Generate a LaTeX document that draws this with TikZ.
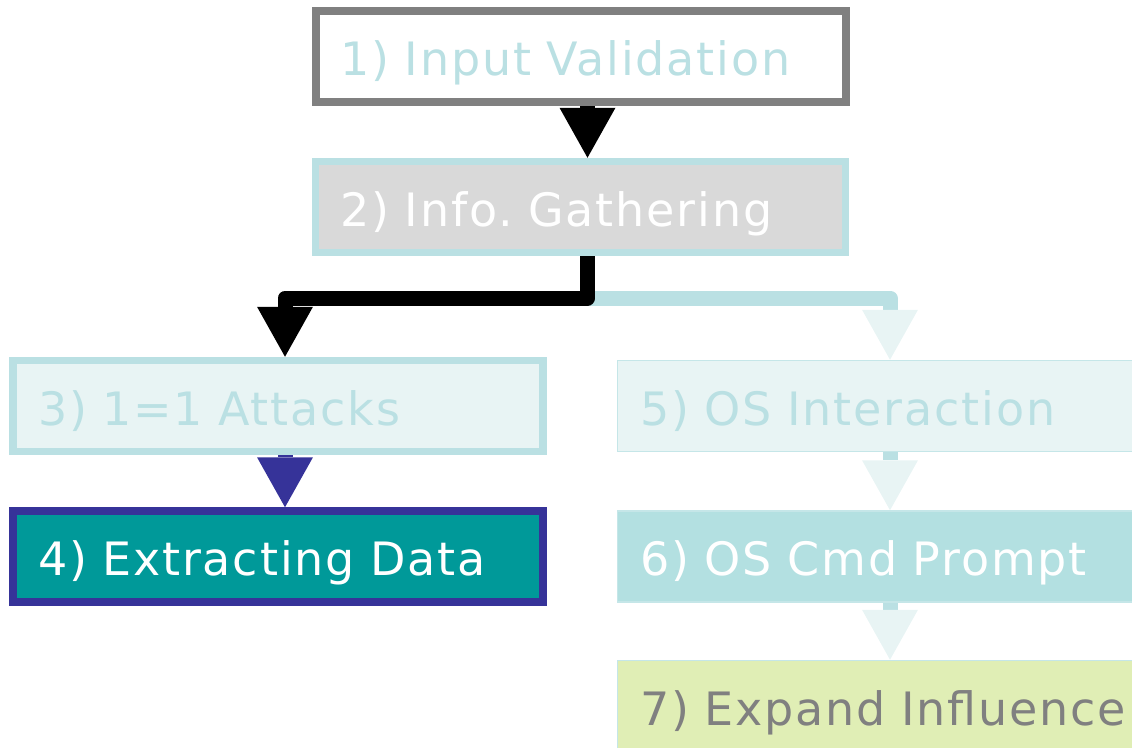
\documentclass[tikz,border=0pt]{standalone}
\usepackage{fontspec}
\newfontfamily\boxfont{DejaVu Sans}[LetterSpace=4]
\usetikzlibrary{arrows.meta}
\pgfdeclarelayer{bg}
\pgfsetlayers{bg,main}
\definecolor{grayb}{HTML}{808080}
\definecolor{lblue}{HTML}{BAE0E3}
\definecolor{lfill}{HTML}{E8F4F4}
\definecolor{gfill}{HTML}{D9D9D9}
\definecolor{navy}{HTML}{363399}
\definecolor{teal}{HTML}{009999}
\definecolor{cfill}{HTML}{B3E0E1}
\definecolor{ygfill}{HTML}{E0EEB5}
\definecolor{thinb}{HTML}{C5E6E8}
\tikzset{
  x=1pt, y=-1pt,
  box/.style={rectangle, minimum height=91pt, inner xsep=0pt, inner ysep=0pt,
    text height=38pt, text depth=0pt, align=left,
    font=\boxfont\fontsize{46}{50}\selectfont\frenchspacing},
  leftbox/.style={box, minimum width=530pt, text width=480pt},
  rightbox/.style={box, minimum width=531pt, text width=485pt, line width=1.5pt, draw=thinb},
  arr/.style={line width=15pt, line join=round,
    -{Triangle[length=50pt,width=56pt,line width=0pt]}},
  lightarr/.style={line width=15pt, line join=round, draw=lblue,
    -{Triangle[length=50pt,width=56pt,line width=0pt,fill=lfill,color=lfill]}},
}
\begin{document}
\begin{tikzpicture}
\useasboundingbox (0,0) rectangle (1132,747);
\clip (0,0) rectangle (1132,747);
% boxes
\node[leftbox, draw=grayb, line width=8pt, fill=white, text=lblue] (n1) at (580.5,56) {1) Input Validation};
\node[leftbox, draw=lblue, line width=7.5pt, fill=gfill, text=white] (n2) at (580.5,207) {2) Info. Gathering};
\node[leftbox, draw=lblue, line width=7.5pt, fill=lfill, text=lblue] (n3) at (278,406) {3) 1=1 Attacks};
\node[leftbox, draw=navy, line width=7.5pt, fill=teal, text=white] (n4) at (278,556.5) {4) Extracting Data};
\node[rightbox, fill=lfill, text=lblue] (n5) at (883,406) {5) OS Interaction};
\node[rightbox, fill=cfill, text=white] (n6) at (883,556.5) {6) OS Cmd Prompt};
\node[rightbox, fill=ygfill, text=grayb] (n7) at (883,706) {\mbox{7) Expand Influence}};
\coordinate (j3) at (285,298);
\coordinate (j5) at (890,298);
% connectors
\begin{pgfonlayer}{bg}
\draw[arr, draw=black] ([xshift=7pt]n1.south) -- ([xshift=7pt]n2.north);
\draw[lightarr] ([xshift=7pt]n2.south) |- (j5) -- (n5.north -| j5);
\draw[arr, draw=black] ([xshift=7pt]n2.south) |- (j3) -- (n3.north -| j3);
\draw[arr, draw=navy] ([xshift=7pt]n3.south) -- ([xshift=7pt]n4.north);
\draw[lightarr] ([xshift=7pt]n5.south) -- ([xshift=7pt]n6.north);
\draw[lightarr] ([xshift=7pt]n6.south) -- ([xshift=7pt]n7.north);
\end{pgfonlayer}
\end{tikzpicture}
\end{document}
